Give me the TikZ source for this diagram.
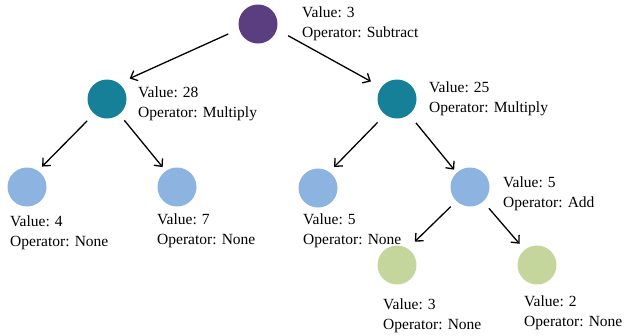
\documentclass[tikz,border=0pt]{standalone}
\usepackage{fontspec}
\setmainfont{Liberation Serif}
\usetikzlibrary{arrows.meta}
\definecolor{cpurple}{RGB}{90,62,128}
\definecolor{cteal}{RGB}{22,128,153}
\definecolor{cblue}{RGB}{141,179,224}
\definecolor{cgreen}{RGB}{196,214,155}
\tikzset{
  dot/.style={circle, minimum size=39pt, inner sep=0pt, outer sep=0pt, draw=none},
  lbl/.style={anchor=west, align=left, inner sep=0pt, font=\fontsize{15.5pt}{19.5pt}\selectfont},
  arr/.style={line width=1.3pt, -{Straight Barb[length=6pt, width=11pt, line width=1.3pt]}}
}
\begin{document}
\begin{tikzpicture}[x=1pt, y=-1pt]
\useasboundingbox (0,0) rectangle (624,335);
% circles
\node[dot, fill=cpurple] (root) at (258,24) {};
\node[dot, fill=cteal] (n28) at (107,99) {};
\node[dot, fill=cteal] (n25) at (397,99) {};
\node[dot, fill=cblue] (n4) at (27,187) {};
\node[dot, fill=cblue] (n7) at (177,187) {};
\node[dot, fill=cblue] (n5) at (318,188) {};
\node[dot, fill=cblue] (nadd) at (470,187) {};
\node[dot, fill=cgreen] (n3) at (397,265) {};
\node[dot, fill=cgreen] (n2) at (537,265) {};
% labels
\node[lbl] (troot) at (302,24) {Value: 3\\Operator: Subtract};
\node[lbl] (t28) at (138,104) {Value: 28\\Operator: Multiply};
\node[lbl] (t25) at (429,99) {Value: 25\\Operator: Multiply};
\node[lbl] (t4) at (10,233) {Value: 4\\Operator: None};
\node[lbl] (t7) at (157,231) {Value: 7\\Operator: None};
\node[lbl] (t5) at (303,231) {Value: 5\\Operator: None};
\node[lbl] (tadd) at (503,194) {Value: 5\\Operator: Add};
\node[lbl] (t3) at (383,316) {Value: 3\\Operator: None};
\node[lbl] (t2) at (524,313) {Value: 2\\Operator: None};
% connectors
\draw[arr, shorten <=12pt, shorten >=12pt] (root.195) -- (n28.53);
\draw[arr, shorten <=13pt, shorten >=12pt] (root.344) -- (n25.143);
\draw[arr, shorten <=10pt, shorten >=6pt] (n28.229) -- (n4.56);
\draw[arr, shorten <=8pt, shorten >=5pt] (n28.309) -- (n7.125);
\draw[arr, shorten <=11pt, shorten >=7pt] (n25.233) -- (n5.55);
\draw[arr, shorten <=11pt, shorten >=4pt] (n25.308) -- (nadd.133);
\draw[arr, shorten <=8pt, shorten >=10pt] (nadd.226) -- (n3.57);
\draw[arr, shorten <=9pt, shorten >=8pt] (nadd.312) -- (n2.129);
\end{tikzpicture}
\end{document}
